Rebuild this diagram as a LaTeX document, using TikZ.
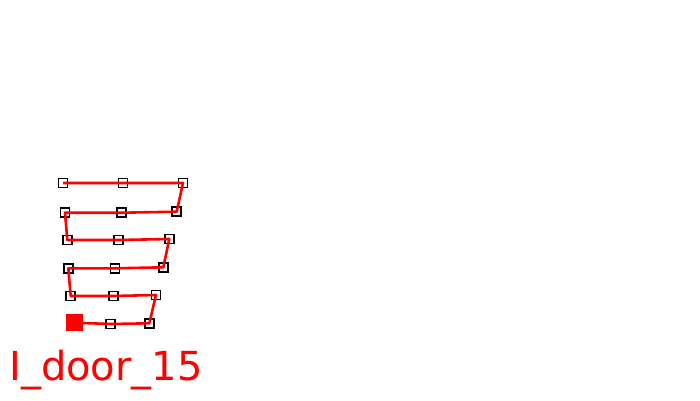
\documentclass[tikz,border=0pt]{standalone}
\usepackage{fontspec}
\setsansfont{DejaVu Sans}
\usetikzlibrary{positioning}
\definecolor{routered}{RGB}{255,0,0}

\tikzset{
  wp/.style={draw=black, line width=1.5pt, minimum size=9pt, inner sep=0pt},
  wpstart/.style={fill=routered, draw=none, minimum size=17pt, inner sep=0pt},
  route/.style={draw=routered, line width=2.6pt, line join=round},
  doorlabel/.style={text=routered, font=\sffamily\fontsize{40}{40}\selectfont, anchor=base}
}

\begin{document}
\begin{tikzpicture}[x=1pt, y=-1pt]
  \useasboundingbox (0,0) rectangle (700,400);
  % start point
  \node[wpstart] (p1) at (74,322.7) {};
  % waypoints, zigzag upwards
  \foreach \n/\x/\y in {2/110.7/324, 3/149.3/323.3, 4/156/295, 5/113.3/296,
      6/70.7/296, 7/68.3/268.3, 8/115/268.3, 9/163.3/267.3, 10/169.3/239,
      11/118.3/240, 12/67.3/240, 13/65/212.7, 14/121.7/212.7, 15/176.7/211.7,
      16/183/183, 17/123/183, 18/63/183}{
    \node[wp] (p\n) at (\x,\y) {};
  }
  % route through the waypoints
  \draw[route] (p1.center) \foreach \n in {2,...,18}{ -- (p\n.center)};
  % label
  \node[doorlabel] (door) at (106,380) {I\_door\_15};
\end{tikzpicture}
\end{document}
